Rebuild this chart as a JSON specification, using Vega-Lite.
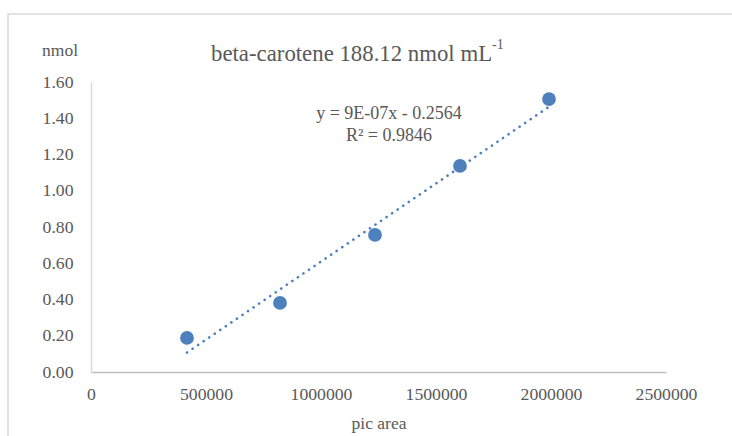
{
  "$schema": "https://vega.github.io/schema/vega-lite/v6.json",
  "width": 575,
  "height": 290,
  "autosize": {"type": "none"},
  "padding": {"left": 91, "top": 82, "right": 66, "bottom": 64},
  "background": "white",
  "config": {
    "view": {"stroke": null},
    "font": "Liberation Serif",
    "axis": {"labelOverlap": false},
    "axisY": {"labelOverlap": false, "tickCount": 9},
    "axisQuantitative": {"labelOverlap": false}
  },
  "data": {
    "values": [
      {"area": 417391, "nmol": 0.188},
      {"area": 821739, "nmol": 0.381},
      {"area": 1234783, "nmol": 0.756},
      {"area": 1604348, "nmol": 1.137},
      {"area": 1991304, "nmol": 1.506}
    ]
  },
  "layer": [
    {
      "mark": {"type": "circle", "size": 190, "opacity": 1, "color": "#4e80bd"},
      "encoding": {
        "x": {
          "field": "area",
          "type": "quantitative",
          "scale": {"domain": [0, 2500000], "nice": false, "zero": false},
          "axis": {
            "values": [0, 500000, 1000000, 1500000, 2000000, 2500000],
            "format": "d",
            "title": "pic area",
            "grid": false,
            "ticks": false,
            "labelFlush": false,
            "labelOverlap": false,
            "domainColor": "#bfbfbf",
            "domainWidth": 1.5,
            "labelFont": "Liberation Serif",
            "labelFontSize": 17.7,
            "labelColor": "#595959",
            "labelPadding": 13,
            "titleFont": "Liberation Serif",
            "titleFontSize": 17.5,
            "titleFontWeight": "normal",
            "titleColor": "#595959",
            "titlePadding": 12
          }
        },
        "y": {
          "field": "nmol",
          "type": "quantitative",
          "scale": {"domain": [0, 1.6], "nice": false, "zero": false},
          "axis": {
            "values": [0, 0.2, 0.4, 0.6, 0.8, 1.0, 1.2, 1.4, 1.6],
            "format": ".2f",
            "title": "nmol",
            "titleAngle": 0,
            "titleX": -31.5,
            "titleY": -32,
            "titleAlign": "center",
            "titleBaseline": "middle",
            "grid": false,
            "ticks": false,
            "labelOverlap": false,
            "labelFlush": false,
            "domainColor": "#d9d9d9",
            "domainWidth": 1.5,
            "labelFont": "Liberation Serif",
            "labelFontSize": 17.7,
            "labelColor": "#595959",
            "labelPadding": 18,
            "titleFont": "Liberation Serif",
            "titleFontSize": 17.5,
            "titleFontWeight": "normal",
            "titleColor": "#595959"
          }
        }
      }
    },
    {
      "data": {"values": [{}]},
      "mark": {"type": "rect", "fill": null, "stroke": "#d9d9d9", "strokeWidth": 1.5},
      "encoding": {
        "x": {"datum": -360870, "type": "quantitative"},
        "x2": {"datum": 3000000},
        "y": {"datum": 1.975, "type": "quantitative"},
        "y2": {"datum": -0.5}
      }
    },
    {
      "transform": [{"regression": "nmol", "on": "area"}],
      "mark": {"type": "line", "color": "#4e80bd", "strokeWidth": 2.6, "strokeCap": "round", "strokeDash": [0.1, 6.6]},
      "encoding": {
        "x": {"field": "area", "type": "quantitative"},
        "y": {"field": "nmol", "type": "quantitative"}
      }
    },
    {
      "data": {"values": [{}]},
      "mark": {
        "type": "text",
        "text": ["y = 9E-07x - 0.2564", "R² = 0.9846"],
        "align": "center",
        "baseline": "alphabetic",
        "lineHeight": 22,
        "font": "Liberation Serif",
        "fontSize": 18,
        "color": "#595959"
      },
      "encoding": {
        "x": {"datum": 1295652, "type": "quantitative"},
        "y": {"datum": 1.396, "type": "quantitative"}
      }
    },
    {
      "data": {"values": [{}]},
      "mark": {
        "type": "text",
        "text": "beta-carotene 188.12 nmol mL",
        "align": "left",
        "baseline": "alphabetic",
        "font": "Liberation Serif",
        "fontSize": 22.8,
        "color": "#595959"
      },
      "encoding": {
        "x": {"datum": 521739, "type": "quantitative"},
        "y": {"datum": 1.716, "type": "quantitative"}
      }
    },
    {
      "data": {"values": [{}]},
      "mark": {
        "type": "text",
        "text": "-1",
        "align": "left",
        "baseline": "alphabetic",
        "font": "Liberation Serif",
        "fontSize": 14,
        "color": "#595959"
      },
      "encoding": {
        "x": {"datum": 1743478, "type": "quantitative"},
        "y": {"datum": 1.782, "type": "quantitative"}
      }
    }
  ]
}
